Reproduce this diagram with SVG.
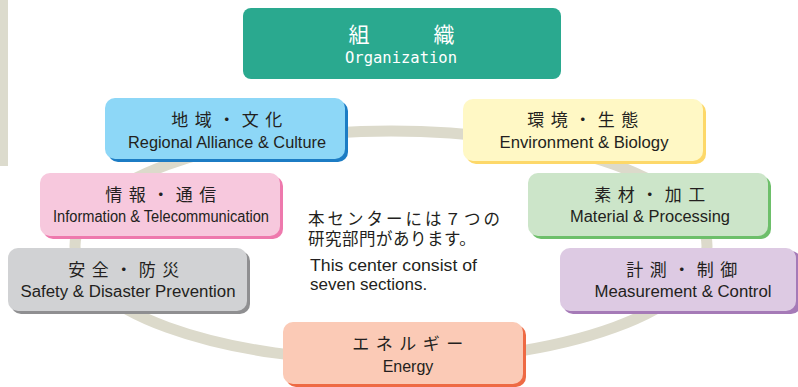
<svg xmlns="http://www.w3.org/2000/svg" width="798" height="387" viewBox="0 0 798 387">
<style>
.t{font-family:"Liberation Sans","Noto Sans CJK JP",sans-serif;fill:#231f20;text-anchor:middle}
.jp{font-family:"Noto Sans CJK JP",sans-serif;font-size:17px;letter-spacing:6.5px}
.en{font-size:16px}
.ring{fill:none;stroke:#dcdacb;stroke-width:11}
.c{font-family:"Liberation Sans","Noto Sans CJK JP",sans-serif;fill:#231f20}
.cj{font-size:16.5px}
</style>
<rect x="0" y="0" width="8" height="166" fill="#dcdbcd"/>
<g id="connectors">
<ellipse class="ring" cx="391" cy="246" rx="316" ry="115"/>
</g>
<g id="organization">
<rect x="243" y="8" width="318" height="71" rx="8" fill="#2aa98f"/>
<text class="t" style="font-family:'Noto Sans CJK JP',sans-serif;font-size:21px;fill:#fff" y="42"><tspan x="359">組</tspan><tspan x="444">織</tspan></text>
<text class="t" x="401" y="63" style="font-family:'DejaVu Sans Mono',monospace;font-size:15.5px;fill:#fff">Organization</text>
</g>
<g id="regional">
<rect x="108" y="101" width="240" height="61" rx="10" fill="#1c7cc4"/>
<rect x="105" y="98" width="240" height="61" rx="10" fill="#8dd7f7"/>
<text class="t jp" x="230" y="126">地域・文化</text>
<text class="t en" x="227" y="148" textLength="198" lengthAdjust="spacingAndGlyphs">Regional Alliance &amp; Culture</text>
</g>
<g id="environment">
<rect x="466" y="102" width="240" height="62" rx="10" fill="#fdd869"/>
<rect x="463" y="99" width="240" height="62" rx="10" fill="#fff8c5"/>
<text class="t jp" x="586" y="126">環境・生態</text>
<text class="t en" x="584" y="148" textLength="169" lengthAdjust="spacingAndGlyphs">Environment &amp; Biology</text>
</g>
<g id="information">
<rect x="43" y="176" width="240" height="63" rx="10" fill="#ee79ad"/>
<rect x="40" y="173" width="240" height="63" rx="10" fill="#f7c8dd"/>
<text class="t jp" x="164" y="201">情報・通信</text>
<text class="t en" x="161" y="222" textLength="216" lengthAdjust="spacingAndGlyphs">Information &amp; Telecommunication</text>
</g>
<g id="material">
<rect x="531" y="176" width="240" height="63" rx="10" fill="#6dbf6a"/>
<rect x="528" y="173" width="240" height="63" rx="10" fill="#cce5c9"/>
<text class="t jp" x="653" y="201">素材・加工</text>
<text class="t en" x="650" y="222" textLength="160" lengthAdjust="spacingAndGlyphs">Material &amp; Processing</text>
</g>
<g id="safety">
<rect x="11" y="251" width="239" height="63" rx="10" fill="#8f8f91"/>
<rect x="8" y="248" width="239" height="63" rx="10" fill="#d1d2d4"/>
<text class="t jp" x="127" y="276">安全・防災</text>
<text class="t en" x="128" y="297" textLength="215" lengthAdjust="spacingAndGlyphs">Safety &amp; Disaster Prevention</text>
</g>
<g id="measurement">
<rect x="563" y="251" width="238" height="63" rx="10" fill="#a57ab7"/>
<rect x="560" y="248" width="236" height="63" rx="10" fill="#ddcae3"/>
<text class="t jp" x="685" y="276">計測・制御</text>
<text class="t en" x="683" y="297" textLength="177" lengthAdjust="spacingAndGlyphs">Measurement &amp; Control</text>
</g>
<g id="energy">
<rect x="286" y="325" width="240" height="62" rx="10" fill="#ee6a44"/>
<rect x="283" y="322" width="240" height="62" rx="10" fill="#fbcab6"/>
<text class="t jp" x="411" y="350">エネルギー</text>
<text class="t en" x="408" y="372">Energy</text>
</g>
<g id="description">
<text class="c cj" x="308" y="225" style="letter-spacing:3px">本センターには７つの</text>
<text class="c cj" x="308" y="245" style="letter-spacing:0.5px">研究部門があります。</text>
<text class="c" x="310" y="271" style="font-size:17px" textLength="167" lengthAdjust="spacingAndGlyphs">This center consist of</text>
<text class="c" x="310" y="290" style="font-size:17px">seven sections.</text>
</g>
</svg>
